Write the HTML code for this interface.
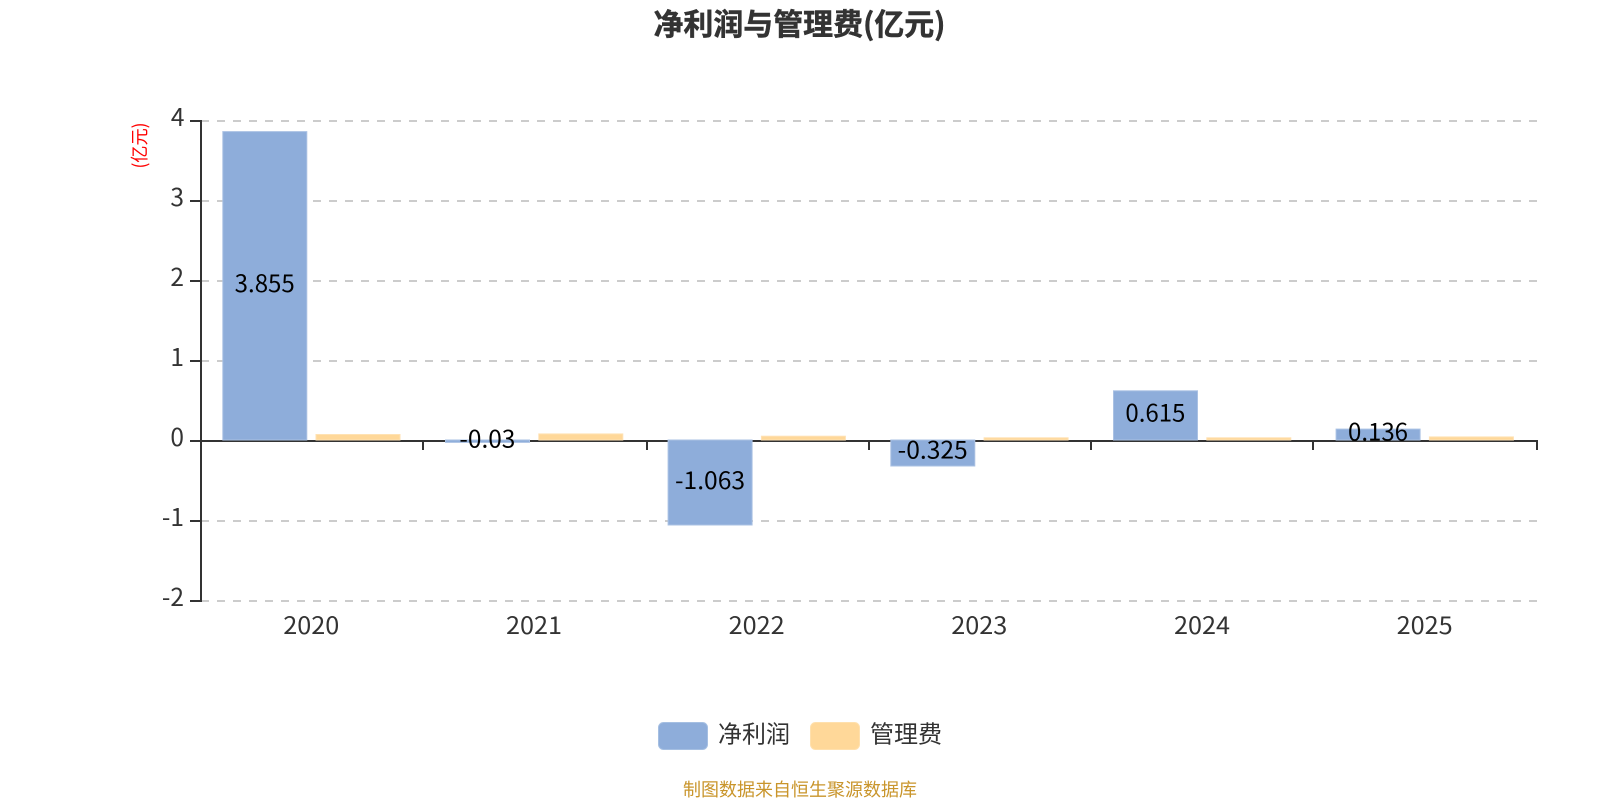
<!DOCTYPE html>
<html lang="zh">
<head>
<meta charset="utf-8">
<title>净利润与管理费(亿元)</title>
<style>
html,body{margin:0;padding:0;background:#fff;width:1600px;height:800px;overflow:hidden}
svg{display:block}
text{font-family:"Noto Sans CJK SC","Liberation Sans",sans-serif}
.g{stroke:#ccc;stroke-width:2;stroke-dasharray:8 8;fill:none}
.a{stroke:#333;stroke-width:2;fill:none}
.b{fill:#8eadda;stroke:#aac1e3;stroke-width:1}
.o{fill:#ffd899;stroke:#ffe2b3;stroke-width:1}
.yl{font-size:24.5px;fill:#333;text-anchor:end}
.xl{font-size:24px;fill:#333;text-anchor:middle}
.v{font-size:24px;fill:#000;text-anchor:middle}
</style>
</head>
<body>
<svg width="1600" height="800" viewBox="0 0 1600 800" xmlns="http://www.w3.org/2000/svg">
<rect width="1600" height="800" fill="#fff"/>
<text x="799.5" y="35" font-size="30" font-weight="700" fill="#333" stroke="#333" stroke-width="0.5" text-anchor="middle" textLength="292" lengthAdjust="spacingAndGlyphs">净利润与管理费(亿元)</text>
<text transform="translate(146,145.5) rotate(-90)" font-size="18" fill="#f00" text-anchor="middle" textLength="46" lengthAdjust="spacingAndGlyphs">(亿元)</text>

<path class="g" d="M201 121H1537M201 201H1537M201 281H1537M201 361H1537M201 521H1537M201 601H1537"/>
<path class="a" d="M201 120V602M190 121H201M190 201H201M190 281H201M190 361H201M190 441H201M190 521H201M190 601H201"/>
<path class="a" d="M200 441H1538M201 441V450M423 441V450M647 441V450M869 441V450M1091 441V450M1313 441V450M1537 440V450"/>

<rect class="b" x="222.8" y="131.6" width="84" height="308.4"/>
<rect class="o" x="316" y="434.5" width="84" height="5.5"/>
<rect class="b" x="445.5" y="440" width="84" height="2.4"/>
<rect class="o" x="538.8" y="433.9" width="84" height="6.1"/>
<rect class="b" x="668.1" y="440" width="84" height="85"/>
<rect class="o" x="761.4" y="436.2" width="84" height="3.8"/>
<rect class="b" x="890.8" y="440" width="84" height="26"/>
<rect class="o" x="984.1" y="437.8" width="84" height="2.2"/>
<rect class="b" x="1113.5" y="390.8" width="84" height="49.2"/>
<rect class="o" x="1206.8" y="437.8" width="84" height="2.2"/>
<rect class="b" x="1336.1" y="429.1" width="84" height="10.9"/>
<rect class="o" x="1429.4" y="436.9" width="84" height="3.1"/>

<text class="v" x="264.7" y="292" textLength="60" lengthAdjust="spacingAndGlyphs">3.855</text>
<text class="v" x="487.4" y="447.5" textLength="56" lengthAdjust="spacingAndGlyphs">-0.03</text>
<text class="v" x="710" y="489" textLength="70" lengthAdjust="spacingAndGlyphs">-1.063</text>
<text class="v" x="932.7" y="458.5" textLength="70" lengthAdjust="spacingAndGlyphs">-0.325</text>
<text class="v" x="1155.4" y="421.5" textLength="60" lengthAdjust="spacingAndGlyphs">0.615</text>
<text class="v" x="1378" y="440.5" textLength="60" lengthAdjust="spacingAndGlyphs">0.136</text>

<text class="yl" x="184.5" y="126">4</text>
<text class="yl" x="184" y="206">3</text>
<text class="yl" x="184" y="286">2</text>
<text class="yl" x="184" y="366">1</text>
<text class="yl" x="184" y="446">0</text>
<text class="yl" x="184" y="526">-1</text>
<text class="yl" x="184" y="606">-2</text>

<text class="xl" x="311.3" y="634" textLength="56" lengthAdjust="spacingAndGlyphs">2020</text>
<text class="xl" x="534" y="634" textLength="56" lengthAdjust="spacingAndGlyphs">2021</text>
<text class="xl" x="756.7" y="634" textLength="56" lengthAdjust="spacingAndGlyphs">2022</text>
<text class="xl" x="979.3" y="634" textLength="56" lengthAdjust="spacingAndGlyphs">2023</text>
<text class="xl" x="1202" y="634" textLength="56" lengthAdjust="spacingAndGlyphs">2024</text>
<text class="xl" x="1424.7" y="634" textLength="56" lengthAdjust="spacingAndGlyphs">2025</text>

<rect x="658.5" y="722.5" width="49" height="27" rx="5" fill="#8eadda" stroke="#a5bfe2"/>
<text x="718" y="742.5" font-size="24" fill="#333">净利润</text>
<rect x="810.5" y="722.5" width="49" height="27" rx="5" fill="#ffd899" stroke="#ffe0ad"/>
<text x="870" y="742.5" font-size="24" fill="#333">管理费</text>

<text x="800" y="796" font-size="18" fill="#c9952b" text-anchor="middle">制图数据来自恒生聚源数据库</text>
</svg>
</body>
</html>
